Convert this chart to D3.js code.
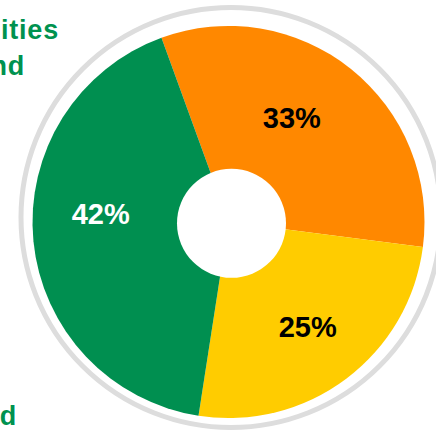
<!DOCTYPE html>
<html>
<head>
<meta charset="utf-8">
<script src="https://cdn.jsdelivr.net/npm/d3@7"></script>
<style>
  html, body { margin: 0; padding: 0; background: #ffffff; }
  svg { display: block; }
</style>
</head>
<body>
<div id="chart"></div>
<script>
// ---- data ----
const categories = ["Orange", "Yellow", "Green"];
const values = [32.6, 25.4, 42.0];
const colors = ["#FF8800", "#FFCC00", "#008F50"];
const labelColors = ["#000000", "#000000", "#FFFFFF"];
const legendFragments = ["ities", "nd", "d"];

const W = 436, H = 435;
const cx = 228.5, cy = 222;
const outerR = 196, innerR = 54.5;

const svg = d3.select("#chart").append("svg")
  .attr("width", W).attr("height", H);

// decorative outer ring
svg.append("circle")
  .attr("cx", 231).attr("cy", 217.5).attr("r", 210)
  .attr("fill", "none")
  .attr("stroke", "#DDDDDD")
  .attr("stroke-width", 5);

const data = categories.map((c, i) => ({ cat: c, value: values[i], color: colors[i], lc: labelColors[i], idx: i }));
const total = d3.sum(values);

const pie = d3.pie()
  .sort(null)
  .value(d => d.value)
  .startAngle(-20 * Math.PI / 180)
  .endAngle(340 * Math.PI / 180);

const arcs = pie(data);

const arc = d3.arc().innerRadius(0).outerRadius(outerR);

const g = svg.append("g").attr("transform", `translate(${cx},${cy})`);

g.selectAll("path.slice")
  .data(arcs)
  .join("path")
  .attr("class", "slice")
  .attr("d", arc)
  .attr("fill", d => d.data.color);

// donut hole
svg.append("circle")
  .attr("cx", 231.5).attr("cy", 223.3).attr("r", innerR)
  .attr("fill", "#ffffff");

const fmt = v => Math.round(v / total * 100) + "%";

// label placement: ring middle, with small angular nudges (degrees) as in the source layout
const labelNudge = [-7.4, -0.3, 9.2];
const labelRadius = [122, 131, 128];
function labelPos(d) {
  const i = d.data.idx;
  const a = (d.startAngle + d.endAngle) / 2 + labelNudge[i] * Math.PI / 180;
  const r = labelRadius[i];
  return [Math.sin(a) * r, -Math.cos(a) * r];
}

g.selectAll("text.lbl")
  .data(arcs)
  .join("text")
  .attr("class", "lbl")
  .attr("transform", d => `translate(${labelPos(d)})`)
  .attr("text-anchor", "middle")
  .attr("dy", "0.36em")
  .attr("font-family", "'Liberation Sans', Arial, sans-serif")
  .attr("font-weight", "bold")
  .attr("font-size", 29)
  .attr("fill", d => d.data.lc)
  .text(d => fmt(d.data.value));

// legend text fragments (cut by the left edge in the source)
const legendPos = [[59, 39], [25, 75], [17, 425]];
svg.selectAll("text.leg")
  .data(legendFragments)
  .join("text")
  .attr("class", "leg")
  .attr("x", (d, i) => legendPos[i][0])
  .attr("y", (d, i) => legendPos[i][1])
  .attr("text-anchor", "end")
  .attr("font-family", "'Liberation Sans', Arial, sans-serif")
  .attr("font-weight", "bold")
  .attr("font-size", 27)
  .attr("letter-spacing", 0.8)
  .attr("fill", "#00924F")
  .text(d => d);
</script>
</body>
</html>
